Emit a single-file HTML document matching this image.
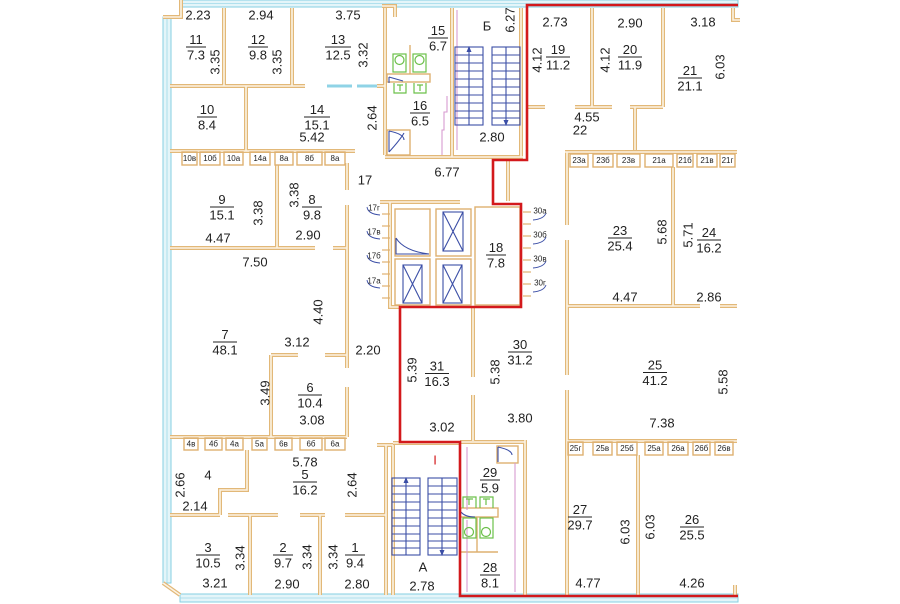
<!DOCTYPE html>
<html><head><meta charset="utf-8">
<style>
html,body{margin:0;padding:0;background:#fff;}
svg{display:block;}
text{font-family:"Liberation Sans",Arial,sans-serif;font-size:13px;fill:#222;text-anchor:middle;dominant-baseline:central;}
.s{font-size:8px;}
.w{fill:none;stroke:#e2b878;stroke-width:4;}
.wi{fill:none;stroke:#fcf3e4;stroke-width:1.6;}
.c{fill:none;stroke:#deb070;stroke-width:1.4;}
.fr{stroke:#222;stroke-width:1;}
.bl{fill:none;stroke:#3b4ea6;stroke-width:1.1;}
.gr{fill:none;stroke:#6cc04a;stroke-width:1.2;}
.pk{fill:none;stroke:#d79ad0;stroke-width:1.1;}
.red{fill:none;stroke:#d3191c;stroke-width:2.6;}
.cy{fill:#e4f5f9;stroke:#86cfe2;stroke-width:1;}
</style></head>
<body>
<svg width="900" height="604" viewBox="0 0 900 604" xmlns="http://www.w3.org/2000/svg">
<defs>
<path id="walls" d="
M181 0 V17 H163
M224 8 V86 M292 8 V86 M385 8 V155
M382 6 H395 V17
M170 86 H305 M377 86 H385
M246 86 V151
M170 151 H355
M347 163 V190 M347 205 V368 M347 387 V437
M277 165 V248
M170 248 H315 M333 248 H347
M271 355 H298 M325 355 H347
M271 355 V437
M170 437 H347
M247 450 V490 H220 V515
M170 515 H220 M228 515 H278 M300 515 H325 M345 515 H386
M250 515 V595 M320 515 V595
M386 445 V595 M377 445 H393 M393 445 V595 M393 443 H460
M385 157 H523
M452 8 V157 M521 8 V157
M380 202 H460 M390 202 V307 H400
M473 307 V377 M473 395 V441
M508 160 V201
M567 152 V225 M567 240 V375 M567 390 V595
M527 107 H545 M575 107 H612 M630 107 H663
M592 8 V107 M663 8 V107
M635 107 V150
M565 152 H737
M673 167 V306
M567 306 H700 M720 306 H737
M567 441 H737
M638 455 V595
M525 440 V595 M460 442 H525
M733 8 V20 H740
M735 585 V595
M163 583 L180 595
"/>
</defs>

<!-- cyan outer walls -->
<rect class="cy" x="181" y="0" width="557" height="7"/>
<line x1="181" y1="3.5" x2="738" y2="3.5" stroke="#9fd9e8" stroke-width="0.8"/>
<rect class="cy" x="163" y="17" width="8" height="566"/>
<line x1="167" y1="17" x2="167" y2="583" stroke="#9fd9e8" stroke-width="0.8"/>
<rect class="cy" x="180" y="594" width="558" height="8"/>
<line x1="180" y1="598" x2="738" y2="598" stroke="#9fd9e8" stroke-width="0.8"/>

<!-- walls -->
<use href="#walls" class="w"/>
<use href="#walls" class="wi"/>

<!-- window segment -->
<rect x="327" y="84.5" width="25" height="3" fill="#8fd3e6"/>
<rect x="357" y="84.5" width="20" height="3" fill="#8fd3e6"/>

<!-- closets -->
<g class="c">
<rect x="182" y="152" width="15" height="13"/><rect x="200" y="152" width="20" height="13"/>
<rect x="224" y="152" width="19" height="13"/><rect x="250" y="152" width="20" height="13"/>
<rect x="275" y="152" width="18" height="13"/><rect x="297" y="152" width="25" height="13"/>
<rect x="325" y="152" width="20" height="13"/>
<rect x="184" y="438" width="14" height="12"/><rect x="205" y="438" width="17" height="12"/>
<rect x="226" y="438" width="17" height="12"/><rect x="252" y="438" width="15" height="12"/>
<rect x="275" y="438" width="17" height="12"/><rect x="300" y="438" width="22" height="12"/>
<rect x="325" y="438" width="20" height="12"/>
<rect x="570" y="154" width="18" height="13"/><rect x="593" y="154" width="20" height="13"/>
<rect x="617" y="154" width="23" height="13"/><rect x="645" y="154" width="28" height="13"/>
<rect x="677" y="154" width="16" height="13"/><rect x="697" y="154" width="20" height="13"/>
<rect x="720" y="154" width="15" height="13"/>
<rect x="568" y="442" width="15" height="13"/><rect x="593" y="442" width="19" height="13"/>
<rect x="617" y="442" width="20" height="13"/><rect x="645" y="442" width="18" height="13"/>
<rect x="668" y="442" width="20" height="13"/><rect x="693" y="442" width="17" height="13"/>
<rect x="715" y="442" width="18" height="13"/>
<rect x="395" y="209" width="35" height="47"/><rect x="436" y="209" width="35" height="47"/>
<rect x="395" y="259" width="35" height="46"/><rect x="436" y="259" width="35" height="46"/>
<rect x="475" y="207" width="45" height="98"/>
<rect x="387" y="74" width="43" height="8"/>
<rect x="387" y="130" width="23" height="25"/>
<line x1="410" y1="45" x2="410" y2="74"/>
<rect x="460" y="508" width="38" height="9"/>
<line x1="477" y1="517" x2="477" y2="552"/><line x1="460" y1="552" x2="498" y2="552"/>
<rect x="497" y="446" width="21" height="17"/>
</g>
<g stroke="#deb070" stroke-width="1.2">
<line x1="382" y1="214" x2="390" y2="214"/><line x1="382" y1="226" x2="390" y2="226"/>
<line x1="382" y1="238" x2="390" y2="238"/><line x1="382" y1="250" x2="390" y2="250"/>
<line x1="382" y1="262" x2="390" y2="262"/><line x1="382" y1="274" x2="390" y2="274"/>
<line x1="382" y1="286" x2="390" y2="286"/><line x1="382" y1="298" x2="390" y2="298"/>
<line x1="523" y1="212" x2="531" y2="212"/><line x1="523" y1="224" x2="531" y2="224"/>
<line x1="523" y1="236" x2="531" y2="236"/><line x1="523" y1="248" x2="531" y2="248"/>
<line x1="523" y1="260" x2="531" y2="260"/><line x1="523" y1="272" x2="531" y2="272"/>
<line x1="523" y1="284" x2="531" y2="284"/><line x1="523" y1="296" x2="531" y2="296"/>
</g>
<g fill="none" stroke="#3b4ea6" stroke-width="0.9">
<path d="M367 207 q1 7 13 8"/><path d="M367 231 q1 7 13 8"/><path d="M367 255 q1 7 13 8"/><path d="M367 280 q1 7 13 8"/>
<path d="M546 213 q-2 6 -13 7"/><path d="M546 237 q-2 6 -13 7"/><path d="M546 261 q-2 6 -13 7"/><path d="M546 285 q-2 6 -13 7"/>
</g>

<path class="pk" d="M447 96 V112 H444 V130 H442 V155"/>
<path class="pk" d="M457 10 V150"/>
<path class="pk" d="M467 447 V510 M515 463 V592 M467 520 V592"/>

<g class="bl">
<rect x="455" y="47" width="28" height="78"/>
<rect x="492" y="47" width="28" height="78"/>
<path d="M455 55 H483 M455 63 H483 M455 71 H483 M455 79 H483 M455 87 H483 M455 95 H483 M455 103 H483 M455 111 H483 M455 118 H483
M492 55 H520 M492 63 H520 M492 71 H520 M492 79 H520 M492 87 H520 M492 95 H520 M492 103 H520 M492 111 H520 M492 118 H520
M469 47 V125 M506 47 V125"/>
</g>
<path d="M469 46 l-2.5 6 h5 z M506 126 l-2.5 -6 h5 z" fill="#3b4ea6"/>
<g class="bl">
<rect x="392" y="478" width="28" height="77"/>
<rect x="428" y="478" width="29" height="77"/>
<path d="M392 486 H420 M392 494 H420 M392 502 H420 M392 510 H420 M392 518 H420 M392 526 H420 M392 534 H420 M392 541 H420 M392 548 H420
M428 486 H457 M428 494 H457 M428 502 H457 M428 510 H457 M428 518 H457 M428 526 H457 M428 534 H457 M428 541 H457 M428 548 H457
M406 478 V555 M442 478 V555"/>
</g>
<path d="M406 477 l-2.5 6 h5 z M442 556 l-2.5 -6 h5 z" fill="#3b4ea6"/>

<g class="bl">
<rect x="443" y="212" width="20" height="39"/><path d="M443 212 L463 251 M463 212 L443 251"/>
<rect x="403" y="265" width="19" height="38"/><path d="M403 265 L422 303 M422 265 L403 303"/>
<rect x="443" y="265" width="19" height="38"/><path d="M443 265 L462 303 M462 265 L443 303"/>
<path d="M396 238 V254 H429 M396 238 Q404 251 429 254"/>
<path d="M389 131 V152 M389 131 Q404 134 404 140 M389 152 Q400 140 404 133"/>
<path d="M389 77 L403 81 M389 77 V83"/>
<path d="M498 447 V462 M498 447 Q512 450 512 455"/>
<path d="M461 512 q4 5 14 5"/>
</g>

<g class="gr">
<rect x="393" y="54" width="13" height="18"/><circle cx="399.5" cy="60" r="4.5"/>
<rect x="413" y="54" width="13" height="18"/><circle cx="419.5" cy="60" r="4.5"/>
<path d="M394 83 V93 H406 V83 M400 85 V91 M397 85 H403"/>
<path d="M414 83 V93 H426 V83 M420 85 V91 M417 85 H423"/>
<path d="M463 508 V497 H476 V508 M469 499 V505 M466 499 H473"/>
<path d="M480 508 V497 H493 V508 M486 499 V505 M483 499 H490"/>
<rect x="463" y="518" width="13" height="20"/><circle cx="469" cy="532" r="4.5"/>
<rect x="480" y="518" width="13" height="20"/><circle cx="486" cy="532" r="4.5"/>
</g>

<path class="red" d="M738 5 H527 V160 H493 V204 H521 V307 H400 V442 H460 V596 H738"/>

<g>
<text x="196" y="39.5">11</text><text x="196" y="55">7.3</text><line class="fr" x1="186" y1="47" x2="206" y2="47"/>
<text x="258" y="39.5">12</text><text x="258" y="55">9.8</text><line class="fr" x1="248" y1="47" x2="268" y2="47"/>
<text x="338" y="39.5">13</text><text x="338" y="55">12.5</text><line class="fr" x1="325" y1="47" x2="351" y2="47"/>
<text x="438" y="30.5">15</text><text x="438" y="46">6.7</text><line class="fr" x1="428" y1="38" x2="448" y2="38"/>
<text x="207" y="109.5">10</text><text x="207" y="125">8.4</text><line class="fr" x1="197" y1="117" x2="217" y2="117"/>
<text x="317" y="109.5">14</text><text x="317" y="125">15.1</text><line class="fr" x1="304" y1="117" x2="330" y2="117"/>
<text x="420" y="105.5">16</text><text x="420" y="121">6.5</text><line class="fr" x1="410" y1="113" x2="430" y2="113"/>
<text x="558" y="49.5">19</text><text x="558" y="65">11.2</text><line class="fr" x1="546" y1="57" x2="570" y2="57"/>
<text x="630" y="49.5">20</text><text x="630" y="65">11.9</text><line class="fr" x1="618" y1="57" x2="642" y2="57"/>
<text x="690" y="70.5">21</text><text x="690" y="86">21.1</text><line class="fr" x1="678" y1="78" x2="702" y2="78"/>
<text x="222" y="199.5">9</text><text x="222" y="215">15.1</text><line class="fr" x1="210" y1="207" x2="234" y2="207"/>
<text x="312" y="199.5">8</text><text x="312" y="215">9.8</text><line class="fr" x1="302" y1="207" x2="322" y2="207"/>
<text x="225" y="334.5">7</text><text x="225" y="350">48.1</text><line class="fr" x1="213" y1="342" x2="237" y2="342"/>
<text x="310" y="387.5">6</text><text x="310" y="403">10.4</text><line class="fr" x1="298" y1="395" x2="322" y2="395"/>
<text x="437" y="366">31</text><text x="437" y="381.5">16.3</text><line class="fr" x1="425" y1="373.5" x2="449" y2="373.5"/>
<text x="496" y="247.5">18</text><text x="496" y="263">7.8</text><line class="fr" x1="486" y1="255" x2="506" y2="255"/>
<text x="620" y="230.5">23</text><text x="620" y="246">25.4</text><line class="fr" x1="608" y1="238" x2="632" y2="238"/>
<text x="709" y="232.5">24</text><text x="709" y="248">16.2</text><line class="fr" x1="697" y1="240" x2="721" y2="240"/>
<text x="520" y="344.5">30</text><text x="520" y="360">31.2</text><line class="fr" x1="508" y1="352" x2="532" y2="352"/>
<text x="655" y="365">25</text><text x="655" y="380.5">41.2</text><line class="fr" x1="643" y1="372.5" x2="667" y2="372.5"/>
<text x="305" y="474.5">5</text><text x="305" y="490">16.2</text><line class="fr" x1="293" y1="482" x2="317" y2="482"/>
<text x="208" y="547.5">3</text><text x="208" y="563">10.5</text><line class="fr" x1="196" y1="555" x2="220" y2="555"/>
<text x="283" y="547.5">2</text><text x="283" y="563">9.7</text><line class="fr" x1="273" y1="555" x2="293" y2="555"/>
<text x="355" y="547.5">1</text><text x="355" y="563">9.4</text><line class="fr" x1="345" y1="555" x2="365" y2="555"/>
<text x="490" y="472.5">29</text><text x="490" y="488">5.9</text><line class="fr" x1="480" y1="480" x2="500" y2="480"/>
<text x="490" y="567.5">28</text><text x="490" y="583">8.1</text><line class="fr" x1="480" y1="575" x2="500" y2="575"/>
<text x="580" y="509.5">27</text><text x="580" y="525">29.7</text><line class="fr" x1="568" y1="517" x2="592" y2="517"/>
<text x="692" y="519.5">26</text><text x="692" y="535">25.5</text><line class="fr" x1="680" y1="527" x2="704" y2="527"/>
</g>

<g>
<text x="198" y="15">2.23</text><text x="261" y="15">2.94</text><text x="348" y="15">3.75</text>
<text x="312" y="137">5.42</text>
<text x="447" y="172">6.77</text><text x="365" y="180">17</text>
<text x="492" y="137">2.80</text><text x="487" y="26">Б</text>
<text x="555" y="22">2.73</text><text x="630" y="23">2.90</text><text x="703" y="22">3.18</text>
<text x="587" y="117">4.55</text><text x="580" y="130">22</text>
<text x="218" y="238">4.47</text><text x="308" y="235">2.90</text>
<text x="255" y="262">7.50</text><text x="297" y="342">3.12</text><text x="368" y="350">2.20</text>
<text x="312" y="420">3.08</text><text x="442" y="427">3.02</text>
<text x="625" y="297">4.47</text><text x="709" y="297">2.86</text>
<text x="520" y="418">3.80</text><text x="662" y="423">7.38</text>
<text x="305" y="462">5.78</text><text x="208" y="475">4</text><text x="195" y="506">2.14</text>
<text x="215" y="583">3.21</text><text x="287" y="584">2.90</text><text x="357" y="584">2.80</text>
<text x="423" y="567">A</text><text x="422" y="586">2.78</text>
<text x="435" y="460" style="fill:#d3191c">I</text>
<text x="588" y="583">4.77</text><text x="692" y="583">4.26</text>
</g>

<g>
<text transform="translate(215,62) rotate(-90)">3.35</text>
<text transform="translate(277,62) rotate(-90)">3.35</text>
<text transform="translate(363,55) rotate(-90)">3.32</text>
<text transform="translate(372,118) rotate(-90)">2.64</text>
<text transform="translate(510,20) rotate(-90)">6.27</text>
<text transform="translate(537,60) rotate(-90)">4.12</text>
<text transform="translate(605,60) rotate(-90)">4.12</text>
<text transform="translate(720,67) rotate(-90)">6.03</text>
<text transform="translate(258,213) rotate(-90)">3.38</text>
<text transform="translate(294,195) rotate(-90)">3.38</text>
<text transform="translate(318,312) rotate(-90)">4.40</text>
<text transform="translate(265,393) rotate(-90)">3.49</text>
<text transform="translate(412,370) rotate(-90)">5.39</text>
<text transform="translate(662,232) rotate(-90)">5.68</text>
<text transform="translate(688,235) rotate(-90)">5.71</text>
<text transform="translate(495,372) rotate(-90)">5.38</text>
<text transform="translate(723,382) rotate(-90)">5.58</text>
<text transform="translate(352,485) rotate(-90)">2.64</text>
<text transform="translate(180,485) rotate(-90)">2.66</text>
<text transform="translate(240,558) rotate(-90)">3.34</text>
<text transform="translate(307,557) rotate(-90)">3.34</text>
<text transform="translate(333,557) rotate(-90)">3.34</text>
<text transform="translate(625,532) rotate(-90)">6.03</text>
<text transform="translate(650,527) rotate(-90)">6.03</text>
</g>

<g class="s">
<text class="s" x="189.5" y="158.5">10в</text><text class="s" x="210" y="158.5">10б</text>
<text class="s" x="233.5" y="158.5">10а</text><text class="s" x="260" y="158.5">14а</text>
<text class="s" x="284" y="158.5">8а</text><text class="s" x="309.5" y="158.5">8б</text>
<text class="s" x="335" y="158.5">8а</text>
<text class="s" x="191" y="444">4в</text><text class="s" x="213.5" y="444">4б</text>
<text class="s" x="234.5" y="444">4а</text><text class="s" x="259.5" y="444">5а</text>
<text class="s" x="283.5" y="444">6в</text><text class="s" x="311" y="444">6б</text>
<text class="s" x="335" y="444">6а</text>
<text class="s" x="579" y="160.5">23а</text><text class="s" x="603" y="160.5">23б</text>
<text class="s" x="628.5" y="160.5">23в</text><text class="s" x="659" y="160.5">21а</text>
<text class="s" x="685" y="160.5">21б</text><text class="s" x="707" y="160.5">21в</text>
<text class="s" x="727.5" y="160.5">21г</text>
<text class="s" x="575.5" y="448.5">25г</text><text class="s" x="602.5" y="448.5">25в</text>
<text class="s" x="627" y="448.5">25б</text><text class="s" x="654" y="448.5">25а</text>
<text class="s" x="678" y="448.5">26а</text><text class="s" x="701.5" y="448.5">26б</text>
<text class="s" x="724" y="448.5">26в</text>
<text class="s" x="374" y="208">17г</text><text class="s" x="374" y="232">17в</text>
<text class="s" x="374" y="256">17б</text><text class="s" x="374" y="281">17а</text>
<text class="s" x="540" y="211">30а</text><text class="s" x="540" y="235">30б</text>
<text class="s" x="540" y="259">30в</text><text class="s" x="540" y="283">30г</text>
</g>
</svg>
</body></html>
